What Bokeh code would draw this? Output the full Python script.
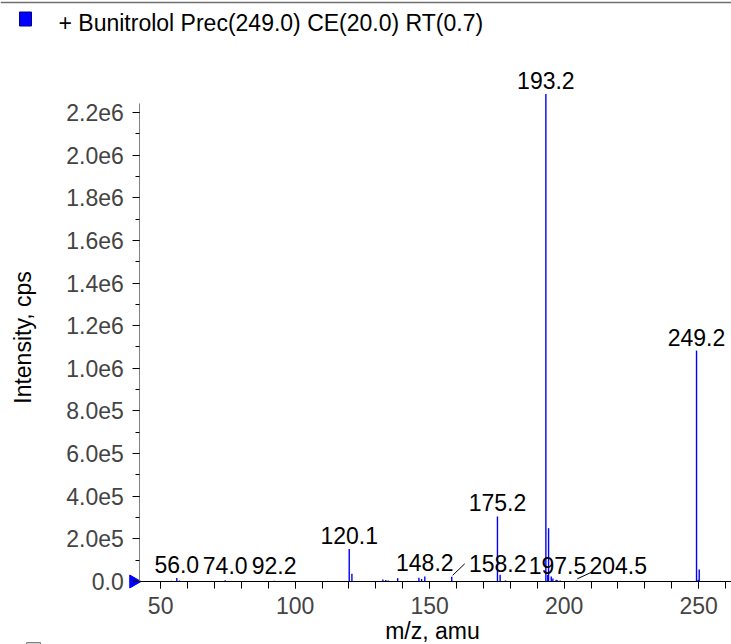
import math
from bokeh.plotting import figure
from bokeh.models import (Range1d, FixedTicker, CustomJSTickFormatter, LabelSet,
                          ColumnDataSource)
from bokeh.core.properties import value
from bokeh.embed import file_html
from bokeh.resources import INLINE

# ---- data ----
peak_mz = [54.0, 56.0, 57.0, 74.0, 92.2, 120.1, 121.1, 132.6, 133.7, 134.6, 138.1,
           146.0, 147.0, 148.2, 158.2, 175.2, 176.2, 178.2, 193.2, 193.9, 194.2,
           195.2, 195.8, 197.0, 197.5, 198.5, 204.5, 249.2, 249.8, 250.2]
peak_intensity = [3e3, 1.6e4, 5e3, 6e3, 3e3, 1.52e5, 3.6e4, 9e3, 7e3, 5e3, 1.6e4,
                  1.8e4, 1.2e4, 2.4e4, 2.2e4, 3.05e5, 3.2e4, 5e3, 2.287e6, 3e4, 2.5e5,
                  2.3e4, 1.4e4, 8e3, 6e3, 5e3, 3e3, 1.083e6, 8e3, 5.6e4]
labeled_mz = [56.0, 74.0, 92.2, 120.1, 148.2, 158.2, 175.2, 193.2, 197.5, 204.5, 249.2]
labeled_text = ["56.0", "74.0", "92.2", "120.1", "148.2", "158.2", "175.2", "193.2", "197.5", "204.5", "249.2"]
x_ticks = [50, 100, 150, 200, 250]
x_minor_ticks = [50, 60, 70, 80, 90, 100, 110, 120, 130, 140, 150, 160, 170, 180,
                 190, 200, 210, 220, 230, 240, 250, 260]
y_ticks = [0, 200000, 400000, 600000, 800000, 1000000, 1200000, 1400000,
           1600000, 1800000, 2000000, 2200000]
y_minor_ticks = [i * 100000 for i in range(0, 23)]
title_text = "+ Bunitrolol Prec(249.0) CE(20.0) RT(0.7)"
x_title = "m/z, amu"
y_title = "Intensity, cps"

# ---- layout (the plot frame covers the whole canvas; axes sit at fixed locations) ----
W, H = 731, 644
X0, X1 = -9.53, 262.2
Y0, Y1 = -2.955e5, 2.725e6
FONT = "Liberation Sans"
FS = "23px"
ppu_x = W / (X1 - X0)
ppu_y = H / (Y1 - Y0)


def sx(page_x):
    return X0 + page_x / ppu_x


def sy(page_y):
    return Y1 - page_y / ppu_y


AXIS_X = sx(139.3)       # data x where the intensity axis sits
# crowded labels: (label shift px, leader end dx px, leader start dy px, leader end dy px)
displaced = {"158.2": (46, 13, 1.5, 13), "204.5": (42, 16, 2, 9)}

p = figure(width=W, height=H, output_backend="svg", toolbar_location=None, title=None,
           x_range=Range1d(X0, X1), y_range=Range1d(Y0, Y1), min_border=0)
p.outline_line_color = None
p.grid.visible = False

# header: rule, series key and experiment description
p.segment(x0=[sx(0)], y0=[sy(2)], x1=[sx(W)], y1=[sy(2)], line_color="#707070", line_width=1.5)
p.rect(x=[sx(25)], y=[sy(18.5)], width=12, height=14, width_units="screen", height_units="screen",
       fill_color="#0000FF", line_color="#00008B", line_width=1)
p.text(x=[sx(58)], y=[sy(22)], text=[title_text], text_font=value(FONT), text_font_size=value(FS),
       text_baseline="middle", text_align="left", text_color="black")
# key of a following (cut-off) panel at the bottom edge
p.rect(x=[sx(33)], y=[sy(649)], width=14, height=14, width_units="screen", height_units="screen",
       fill_color="#d0d0d0", line_color="#808080", line_width=1)

# spectrum sticks
p.segment(x0=peak_mz, y0=[0] * len(peak_mz), x1=peak_mz, y1=peak_intensity,
          line_color="#0000FF", line_width=1.4)

lab_x, lab_y = [], []
lead_x0, lead_y0, lead_x1, lead_y1 = [], [], [], []
for m, t in zip(labeled_mz, labeled_text):
    inten = peak_intensity[peak_mz.index(m)]
    top_px = inten * ppu_y
    base_px = max(top_px + 5, 7)
    shx, ldx, ldy0, ldy1 = displaced.get(t, (0, 0, 0, 0))
    lab_x.append(m + shx / ppu_x)
    lab_y.append(base_px / ppu_y)
    if shx:
        lead_x0.append(m + 1 / ppu_x)
        lead_y0.append((top_px + ldy0) / ppu_y)
        lead_x1.append(m + ldx / ppu_x)
        lead_y1.append((top_px + ldy1) / ppu_y)

p.segment(x0=lead_x0, y0=lead_y0, x1=lead_x1, y1=lead_y1, line_color="black", line_width=1)

src = ColumnDataSource(dict(x=lab_x, y=lab_y, text=labeled_text))
p.add_layout(LabelSet(x="x", y="y", text="text", source=src, text_align="center",
                      text_baseline="alphabetic", text_font=value(FONT),
                      text_font_size=value(FS), text_color="black"))

# zero-level marker
p.scatter(x=[sx(133)], y=[0], marker="triangle", size=13, angle=-math.pi / 2,
          fill_color="#0000FF", line_color="#0000FF")

# x axis title
p.text(x=[sx(432)], y=[sy(630)], text=[x_title], text_font=value(FONT), text_font_size=value(FS),
       text_baseline="middle", text_align="center", text_color="black")

xa = p.xaxis[0]
xa.fixed_location = 0
xa.ticker = FixedTicker(ticks=x_ticks, minor_ticks=x_minor_ticks)
xa.bounds = (AXIS_X, X1)
xa.major_tick_out = 7
xa.major_tick_in = 0
xa.minor_tick_out = 7
xa.minor_tick_in = 0
xa.major_label_standoff = 9
xa.major_label_text_font = FONT
xa.major_label_text_font_size = FS
xa.axis_line_color = "black"

ya = p.yaxis[0]
ya.fixed_location = AXIS_X
ya.ticker = FixedTicker(ticks=y_ticks, minor_ticks=y_minor_ticks)
ya.bounds = (0, 2.24e6)
ya.formatter = CustomJSTickFormatter(code="return tick === 0 ? '0.0' : tick.toExponential(1).replace('+', '');")
ya.major_tick_out = 7
ya.major_tick_in = 0
ya.minor_tick_out = 4
ya.minor_tick_in = 0
ya.major_label_standoff = 9
ya.major_label_text_font = FONT
ya.major_label_text_font_size = FS
ya.axis_line_color = "#808080"

# y axis title
p.text(x=[sx(22)], y=[sy(337)], text=[y_title], angle=math.pi / 2, text_font=value(FONT),
       text_font_size=value(FS), text_baseline="middle", text_align="center", text_color="black")

open("out.html", "w").write(file_html(p, INLINE))
